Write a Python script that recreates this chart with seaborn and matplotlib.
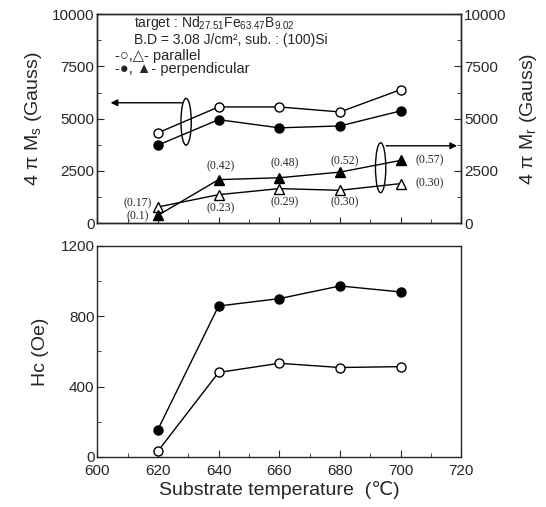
import numpy as np
import pandas as pd
import matplotlib
matplotlib.use("Agg")
import matplotlib.pyplot as plt
import seaborn as sns
from matplotlib.patches import Ellipse
from matplotlib.ticker import MultipleLocator

# Datos
temps = [620, 640, 660, 680, 700]
ms_parallel = [4320, 5560, 5560, 5320, 6390]
ms_perp = [3730, 4950, 4560, 4650, 5370]
mr_parallel = [770, 1360, 1650, 1570, 1890]
mr_perp = [370, 2080, 2170, 2440, 3000]
hc_parallel = [32, 480, 532, 508, 513]
hc_perp = [155, 858, 900, 972, 938]
ratio_parallel = ["(0.17)", "(0.23)", "(0.29)", "(0.30)", "(0.30)"]
ratio_perp = ["(0.1)", "(0.42)", "(0.48)", "(0.52)", "(0.57)"]

df = pd.DataFrame({
    "T": temps,
    "ms_par": ms_parallel, "ms_perp": ms_perp,
    "mr_par": mr_parallel, "mr_perp": mr_perp,
    "hc_par": hc_parallel, "hc_perp": hc_perp,
})

sns.set_style("ticks")
plt.rcParams['font.family'] = ['Liberation Sans', 'DejaVu Sans']
plt.rcParams['mathtext.fontset'] = 'custom'
plt.rcParams['mathtext.rm'] = 'Liberation Sans'
plt.rcParams['mathtext.default'] = 'regular'
plt.rcParams['xtick.direction'] = 'in'
plt.rcParams['ytick.direction'] = 'in'

fig = plt.figure(figsize=(5.46, 5.07), dpi=100)
ax1 = fig.add_axes([0.178, 0.560, 0.667, 0.412])
ax2 = fig.add_axes([0.178, 0.099, 0.667, 0.416])

open_kw = dict(color="black", mfc="white", mec="black", mew=1.0, ms=6.5, lw=1.0)
fill_kw = dict(color="black", mfc="black", mec="black", mew=1.0, ms=6.5, lw=1.0)

# Panel superior: 4piMs / 4piMr
sns.lineplot(data=df, x="T", y="ms_par", marker="o", ax=ax1, **open_kw)
sns.lineplot(data=df, x="T", y="ms_perp", marker="o", ax=ax1, **fill_kw)
sns.lineplot(data=df, x="T", y="mr_par", marker="^", ax=ax1, **open_kw)
sns.lineplot(data=df, x="T", y="mr_perp", marker="^", ax=ax1, **fill_kw)

ax1.set_xlim(600, 720)
ax1.set_ylim(0, 10000)
ax1.xaxis.set_major_locator(MultipleLocator(20))
ax1.xaxis.set_minor_locator(MultipleLocator(10))
ax1.yaxis.set_major_locator(MultipleLocator(2500))
ax1.yaxis.set_minor_locator(MultipleLocator(1250))
ax1.tick_params(axis="x", labelbottom=False, length=4)
ax1.tick_params(axis="y", labelsize=11, length=5, pad=2)
ax1.tick_params(which="minor", length=3)
ax1.set_xlabel("")
ax1.set_ylabel("4 π M$_s$ (Gauss)", fontsize=14, labelpad=6)

ax1r = ax1.twinx()
ax1r.set_ylim(0, 10000)
ax1r.yaxis.set_major_locator(MultipleLocator(2500))
ax1r.yaxis.set_minor_locator(MultipleLocator(1250))
ax1r.tick_params(axis="y", labelsize=11, length=5, pad=2, direction="in")
ax1r.tick_params(which="minor", length=3, direction="in")
ax1r.set_ylabel("4 π M$_r$ (Gauss)", fontsize=14, labelpad=8)

# Ratios Mr/Ms
serif = dict(family="Liberation Serif", fontsize=8.5, ha="center", va="center")
par_pos = [(613.4, 960), (640.8, 690), (661.7, 1010), (681.6, 1010), (709.5, 1890)]
perp_pos = [(613.4, 320), (640.8, 2730), (661.7, 2840), (681.6, 2970), (709.5, 3000)]
for (x, y), s in zip(par_pos, ratio_parallel):
    ax1.text(x, y, s, **serif)
for (x, y), s in zip(perp_pos, ratio_perp):
    ax1.text(x, y, s, **serif)

# Elipses y flechas
ax1.add_patch(Ellipse((629.3, 4850), 3.4, 2240, fill=False, lw=1.0, ec="black"))
ax1.add_patch(Ellipse((693.4, 2650), 3.4, 2390, fill=False, lw=1.0, ec="black"))
ax1.annotate("", xy=(603.5, 5760), xytext=(629.0, 5760),
             arrowprops=dict(arrowstyle="-|>", color="black", lw=1.0, mutation_scale=10))
ax1.annotate("", xy=(719.5, 3700), xytext=(694.3, 3700),
             arrowprops=dict(arrowstyle="-|>", color="black", lw=1.0, mutation_scale=10))

# Leyenda como texto
ax1.text(0.10, 0.960, "target : Nd$_{27.51}$Fe$_{63.47}$B$_{9.02}$", transform=ax1.transAxes,
         fontsize=10, va="center")
ax1.text(0.10, 0.877, "B.D = 3.08 J/cm², sub. : (100)Si", transform=ax1.transAxes,
         fontsize=10, va="center")
ax1.text(0.05, 0.801, "-○,△- parallel", transform=ax1.transAxes, fontsize=10.5, va="center",
         family=["Liberation Sans", "DejaVu Sans"])
ax1.text(0.05, 0.738, "-●, ▲- perpendicular", transform=ax1.transAxes, fontsize=10.5, va="center",
         family=["Liberation Sans", "DejaVu Sans"])

# Panel inferior: Hc
sns.lineplot(data=df, x="T", y="hc_par", marker="o", ax=ax2, **open_kw)
sns.lineplot(data=df, x="T", y="hc_perp", marker="o", ax=ax2, **fill_kw)
ax2.set_xlim(600, 720)
ax2.set_ylim(0, 1200)
ax2.xaxis.set_major_locator(MultipleLocator(20))
ax2.xaxis.set_minor_locator(MultipleLocator(10))
ax2.yaxis.set_major_locator(MultipleLocator(400))
ax2.yaxis.set_minor_locator(MultipleLocator(200))
ax2.tick_params(axis="y", labelsize=11, length=5, pad=2)
ax2.tick_params(axis="x", labelsize=11, length=5, pad=5)
ax2.tick_params(which="minor", length=3)
ax2.set_ylabel("Hc (Oe)", fontsize=14, labelpad=8)
ax2.set_xlabel("Substrate temperature  (℃)", fontsize=14, labelpad=2)

for a in (ax1, ax1r, ax2):
    for sp in a.spines.values():
        sp.set_linewidth(1.0)

fig.savefig("out.png", dpi=100)
